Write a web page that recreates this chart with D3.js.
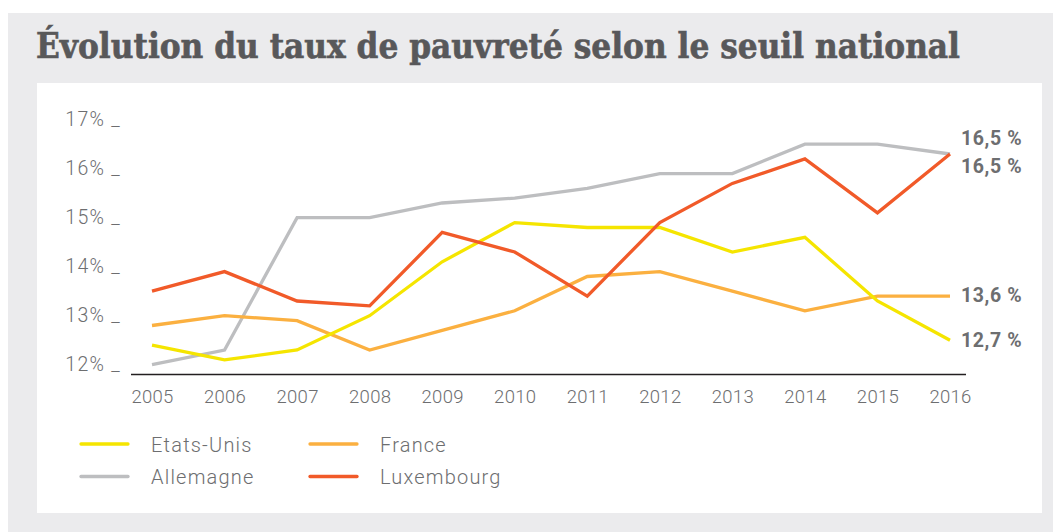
<!DOCTYPE html>
<html>
<head>
<meta charset="utf-8">
<script src="https://cdn.jsdelivr.net/npm/d3@7"></script>
<style>
  html, body { margin: 0; padding: 0; background: #ffffff; }
  svg { display: block; }
</style>
</head>
<body>
<svg id="chart" width="1053" height="532"></svg>
<script>
const years = [2005, 2006, 2007, 2008, 2009, 2010, 2011, 2012, 2013, 2014, 2015, 2016];
const etatsUnis  = [12.6, 12.3, 12.5, 13.2, 14.3, 15.1, 15.0, 15.0, 14.5, 14.8, 13.5, 12.7];
const france     = [13.0, 13.2, 13.1, 12.5, 12.9, 13.3, 14.0, 14.1, 13.7, 13.3, 13.6, 13.6];
const allemagne  = [12.2, 12.5, 15.2, 15.2, 15.5, 15.6, 15.8, 16.1, 16.1, 16.7, 16.7, 16.5];
const luxembourg = [13.7, 14.1, 13.5, 13.4, 14.9, 14.5, 13.6, 15.1, 15.9, 16.4, 15.3, 16.5];
const yTicks = [12, 13, 14, 15, 16, 17];
const seriesNames = ["Etats-Unis", "France", "Allemagne", "Luxembourg"];
const endLabels = ["12,7 %", "13,6 %", "16,5 %", "16,5 %"];
const title = "Évolution du taux de pauvreté selon le seuil national";

const colors = { "Etats-Unis": "#f5e500", "France": "#fbb040", "Allemagne": "#bdbec0", "Luxembourg": "#f15a29" };
const seriesData = { "Etats-Unis": etatsUnis, "France": france, "Allemagne": allemagne, "Luxembourg": luxembourg };

const svg = d3.select("#chart");
const textColor = "#6d6e70";

// backgrounds
svg.append("rect").attr("x", 8).attr("y", 13).attr("width", 1045).attr("height", 519).attr("fill", "#ebebed");
svg.append("rect").attr("x", 37).attr("y", 83).attr("width", 1005).attr("height", 430).attr("fill", "#ffffff");

// title
svg.append("text")
  .attr("x", 36).attr("y", 58)
  .attr("textLength", 924).attr("lengthAdjust", "spacingAndGlyphs")
  .style("font-family", "'DejaVu Serif', serif")
  .style("font-weight", "bold")
  .style("font-stretch", "condensed")
  .style("font-size", "36px")
  .attr("fill", "#58585a")
  .attr("stroke", "#58585a").attr("stroke-width", 0.6)
  .text(title);

const x = d3.scalePoint().domain(years).range([152, 950]);
const y = d3.scaleLinear().domain([12, 17]).range([374.5, 129.5]);

// x axis line
svg.append("line").attr("x1", 131).attr("x2", 966).attr("y1", 374.5).attr("y2", 374.5)
  .attr("stroke", "#231f20").attr("stroke-width", 1.3);

// x labels
const xAxis = d3.axisBottom(x).tickSize(0).tickPadding(0).tickFormat(d3.format("d"));
const gx = svg.append("g").attr("transform", "translate(0,390)").call(xAxis);
gx.select(".domain").remove();
gx.selectAll("text")
  .attr("dy", "0.71em")
  .style("font-family", "Roboto, sans-serif").style("font-weight", "300")
  .style("font-size", "18.5px").style("letter-spacing", "0.3px").attr("fill", textColor);

// y labels
const yAxis = d3.axisLeft(y).tickValues(yTicks).tickSize(0).tickPadding(0)
  .tickFormat(d => d + "% _");
const gy = svg.append("g").attr("transform", "translate(121,0)").call(yAxis);
gy.select(".domain").remove();
gy.selectAll("text")
  .attr("dy", "-0.2em")
  .style("font-family", "Roboto, sans-serif").style("font-weight", "300")
  .style("font-size", "19.5px").style("letter-spacing", "1.3px").attr("fill", textColor);

// lines
const line = d3.line().x((d, i) => x(years[i])).y(d => y(d));
const drawOrder = ["Allemagne", "France", "Etats-Unis", "Luxembourg"];
drawOrder.forEach(name => {
  svg.append("path").datum(seriesData[name])
    .attr("d", line).attr("fill", "none")
    .attr("stroke", colors[name]).attr("stroke-width", 3.3)
    .attr("stroke-linejoin", "miter");
});

// end labels
const endY = [347, 302, 145, 173];
endLabels.forEach((t, i) => {
  svg.append("text").attr("x", 961).attr("y", endY[i])
    .style("font-family", "Roboto, sans-serif").style("font-weight", "bold")
    .style("font-size", "19.5px").style("letter-spacing", "0.6px")
    .attr("fill", textColor).text(t);
});

// legend
const legendPos = [
  { name: "Etats-Unis", x: 81, y: 444 },
  { name: "France", x: 310, y: 444 },
  { name: "Allemagne", x: 81, y: 476.5 },
  { name: "Luxembourg", x: 310, y: 476.5 }
];
legendPos.forEach(p => {
  svg.append("line").attr("x1", p.x).attr("x2", p.x + 47).attr("y1", p.y).attr("y2", p.y)
    .attr("stroke", colors[p.name]).attr("stroke-width", 3.3).attr("stroke-linecap", "round");
  svg.append("text").attr("x", p.x + 70).attr("y", p.y + 7.5)
    .style("font-family", "Roboto, sans-serif").style("font-weight", "300")
    .style("font-size", "20px").style("letter-spacing", "1.2px")
    .attr("fill", textColor).text(p.name);
});
</script>
</body>
</html>
